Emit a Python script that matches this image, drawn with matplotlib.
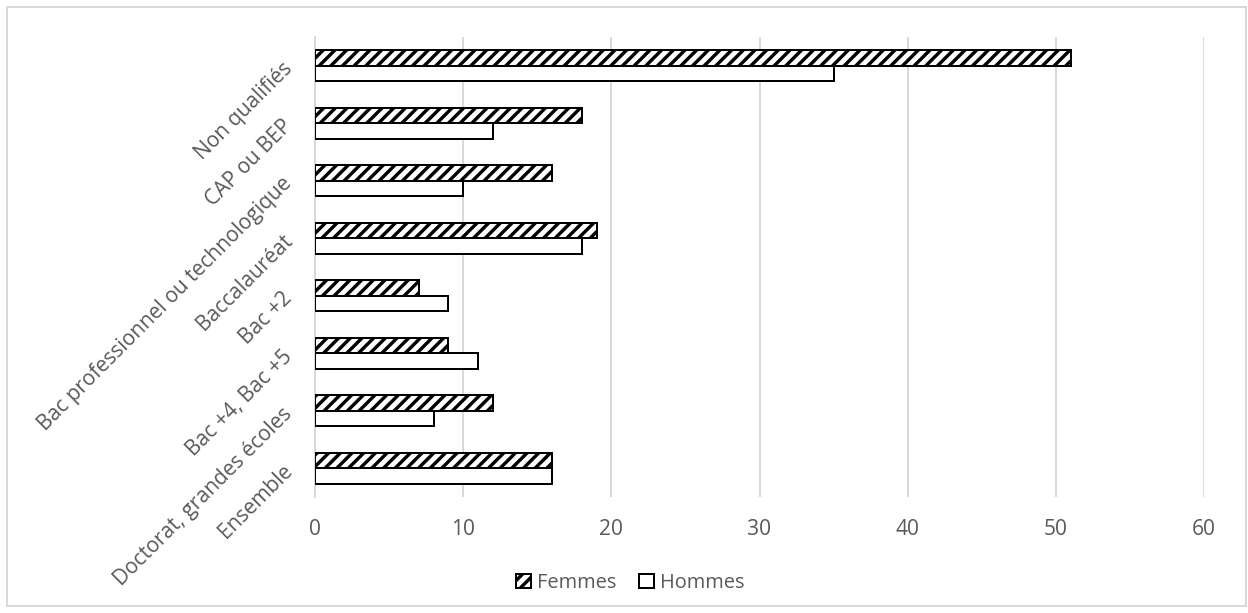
import numpy as np
import matplotlib.pyplot as plt
from matplotlib.patches import Rectangle

DPI = 140


def pt(px):
    # pixel size -> points at the figure dpi
    return px * 72 / DPI


plt.rcParams['font.family'] = ['Open Sans', 'DejaVu Sans']
plt.rcParams['hatch.linewidth'] = pt(3.4)

categories = ['Non qualifiés', 'CAP ou BEP', 'Bac professionnel ou technologique',
              'Baccalauréat', 'Bac +2', 'Bac +4, Bac +5',
              'Doctorat, grandes écoles', 'Ensemble']
femmes = [51, 18, 16, 19, 7, 9, 12, 16]
hommes = [35, 12, 10, 18, 9, 11, 8, 16]
xticks = [0, 10, 20, 30, 40, 50, 60]

W, H = 1248, 613
fig = plt.figure(figsize=(W / DPI, H / DPI), dpi=DPI)
ax = fig.add_axes([315 / W, 1 - 497 / H, (1204 - 315) / W, (497 - 37) / H])

y = np.arange(len(categories))
h = 0.27
ax.barh(y - h / 2, femmes, height=h, color='white', edgecolor='black',
        hatch='////', linewidth=pt(2), label='Femmes', zorder=3)
ax.barh(y + h / 2, hommes, height=h, color='white', edgecolor='black',
        linewidth=pt(2), label='Hommes', zorder=3)

ax.set_ylim(len(categories) - 0.5, -0.5)
ax.set_xlim(0, 60)
ax.set_xticks(xticks)
ax.set_yticks(y)
ax.set_yticklabels(categories, rotation=45, ha='right', va='center',
                   rotation_mode='anchor', fontsize=pt(21), color='#595959')
ax.tick_params(axis='x', labelsize=pt(21), labelcolor='#595959', length=0, pad=pt(22))
ax.tick_params(axis='y', length=0, pad=pt(26))
ax.grid(axis='x', color='#d9d9d9', linewidth=pt(2), zorder=0)
for side in ['top', 'right', 'bottom']:
    ax.spines[side].set_visible(False)
ax.spines['left'].set_color('#d9d9d9')
ax.spines['left'].set_linewidth(pt(2))

fig.legend(*ax.get_legend_handles_labels(), loc='center', bbox_to_anchor=(0.505, 1 - 583 / H),
           ncol=2, frameon=False, fontsize=pt(20), handlelength=0.75, handleheight=0.75,
           handletextpad=0.3, columnspacing=1.1, labelcolor='#595959', borderpad=0)

# light frame round the whole chart
fig.patches.append(Rectangle((7 / W, 7 / H), (1246 - 7) / W, (606 - 7) / H,
                             transform=fig.transFigure, fill=False,
                             edgecolor='#d9d9d9', linewidth=pt(2)))

fig.savefig('out.png', dpi=DPI)
